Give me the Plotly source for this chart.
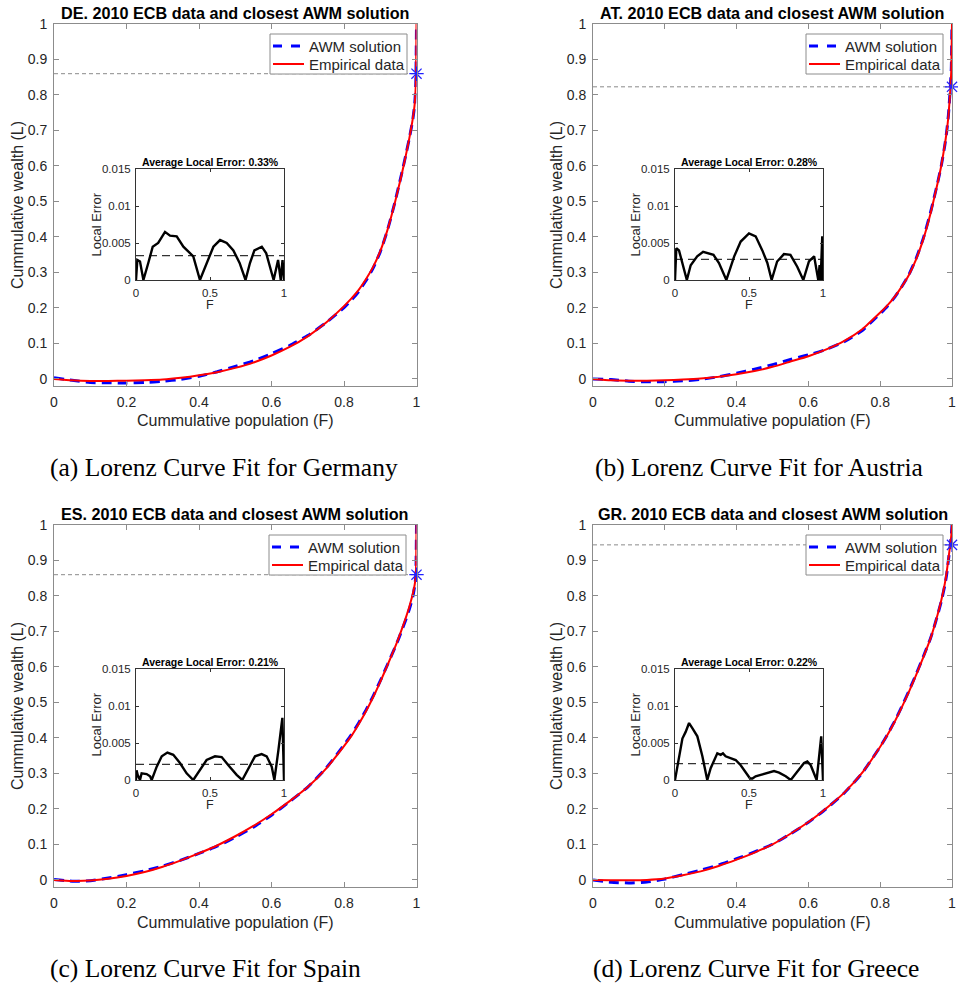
import plotly.graph_objects as go

# ---------------------------------------------------------------- data
W, H = 958, 986

F_GRID = [0, 0.05, 0.1, 0.15, 0.2, 0.25, 0.3, 0.35, 0.4, 0.45, 0.5, 0.55, 0.6, 0.65, 0.7, 0.75, 0.8,
          0.82, 0.84, 0.86, 0.88, 0.9, 0.92, 0.94, 0.95, 0.96, 0.97, 0.98, 0.985, 0.99, 0.995, 0.998, 1.0]

DE_EMP = [0, -0.004, -0.006, -0.006, -0.005, -0.004, -0.002, 0.003, 0.010, 0.019, 0.031, 0.046, 0.066,
          0.090, 0.120, 0.158, 0.205, 0.226, 0.250, 0.280, 0.315, 0.360, 0.420, 0.495, 0.537, 0.580,
          0.627, 0.677, 0.705, 0.735, 0.775, 0.830, 1.0]
DE_AWM = [0.003, -0.004, -0.010, -0.011, -0.0115, -0.010, -0.007, -0.001, 0.0075, 0.020, 0.035, 0.051, 0.071,
          0.094, 0.122, 0.158, 0.201, 0.2217, 0.2455, 0.2757, 0.3114, 0.3578, 0.4193, 0.496, 0.539, 0.5827,
          0.6285, 0.677, 0.7035, 0.7323, 0.7737, 0.830, 1.0]

AT_EMP = [0, -0.004, -0.005, -0.005, -0.004, -0.002, 0.001, 0.006, 0.013, 0.022, 0.034, 0.049, 0.064,
          0.083, 0.107, 0.140, 0.187, 0.207, 0.231, 0.260, 0.293, 0.337, 0.393, 0.465, 0.508, 0.552,
          0.600, 0.660, 0.695, 0.740, 0.810, 0.870, 1.0]
AT_AWM = [0, -0.0017, -0.0065, -0.0082, -0.0078, -0.0055, -0.0012, 0.006, 0.0162, 0.0274, 0.0403, 0.0548, 0.0677,
          0.0833, 0.1047, 0.1365, 0.184, 0.205, 0.2297, 0.2597, 0.2938, 0.3392, 0.396, 0.4682, 0.5102, 0.5528,
          0.600, 0.6585, 0.695, 0.743, 0.8159, 0.873, 1.0]

ES_EMP = [0, -0.003, -0.002, 0.003, 0.011, 0.022, 0.037, 0.055, 0.075, 0.097, 0.123, 0.152, 0.185,
          0.222, 0.262, 0.313, 0.377, 0.405, 0.438, 0.474, 0.514, 0.558, 0.605, 0.654, 0.680, 0.708,
          0.737, 0.769, 0.787, 0.807, 0.832, 0.856, 1.0]
ES_AWM = [0.0013, -0.0038, -0.0022, 0.0052, 0.0146, 0.0255, 0.0392, 0.0557, 0.0746, 0.0949, 0.1201, 0.1488, 0.1824,
          0.2206, 0.2617, 0.3143, 0.3801, 0.4084, 0.4415, 0.4774, 0.5172, 0.5606, 0.6066, 0.6532, 0.6778, 0.7042,
          0.7317, 0.7621, 0.7793, 0.7987, 0.828, 0.855, 1.0]

GR_EMP = [0, -0.001, -0.001, 0.000, 0.004, 0.013, 0.024, 0.039, 0.057, 0.077, 0.100, 0.130, 0.163,
          0.202, 0.246, 0.302, 0.375, 0.408, 0.445, 0.486, 0.530, 0.577, 0.627, 0.680, 0.712, 0.748,
          0.787, 0.835, 0.866, 0.905, 0.944, 0.970, 1.0]
GR_AWM = [0, -0.0066, -0.0086, -0.006, 0.0022, 0.0149, 0.0275, 0.0422, 0.0597, 0.0788, 0.1004, 0.1295, 0.1622,
          0.2009, 0.245, 0.3015, 0.3753, 0.409, 0.4465, 0.488, 0.5324, 0.5794, 0.6289, 0.6805, 0.712, 0.747,
          0.784, 0.830, 0.8601, 0.901, 0.942, 0.970, 1.0]

# local error of the AWM fit along F
DE_ERR_F = [0, 0.009, 0.027, 0.05, 0.083, 0.113, 0.15, 0.196, 0.23, 0.275, 0.32, 0.387, 0.432, 0.477, 0.523,
            0.568, 0.613, 0.658, 0.70, 0.74, 0.77, 0.80, 0.85, 0.88, 0.93, 0.96, 0.978, 0.99, 1.0]
DE_ERR = [0, 0.0027, 0.0025, 0, 0.0023, 0.0045, 0.005, 0.0065, 0.006, 0.0059, 0.0045, 0.0032, 0, 0.0023, 0.0045,
          0.0054, 0.005, 0.004, 0.0023, 0, 0.0023, 0.004, 0.0045, 0.0036, 0, 0.0027, 0, 0.0027, 0]

AT_ERR_F = [0, 0.009, 0.027, 0.05, 0.08, 0.106, 0.15, 0.19, 0.22, 0.26, 0.297, 0.347, 0.4, 0.444, 0.5, 0.545,
            0.59, 0.624, 0.653, 0.69, 0.736, 0.78, 0.826, 0.867, 0.905, 0.94, 0.968, 0.977, 0.984, 0.995, 1.0]
AT_ERR = [0, 0.0043, 0.004, 0.0023, 0, 0.002, 0.0032, 0.0038, 0.0036, 0.0034, 0.0023, 0, 0.0032, 0.0052, 0.0063,
          0.0059, 0.004, 0.0023, 0, 0.0025, 0.0035, 0.0034, 0.0018, 0, 0.0025, 0.0032, 0, 0.002, 0, 0.0059, 0]

ES_ERR_F = [0, 0.004, 0.011, 0.027, 0.038, 0.072, 0.095, 0.106, 0.14, 0.174, 0.212, 0.252, 0.297, 0.342, 0.387,
            0.432, 0.477, 0.534, 0.579, 0.624, 0.68, 0.718, 0.759, 0.804, 0.849, 0.883, 0.917, 0.935, 0.962,
            0.989, 1.0]
ES_ERR = [0, 0.0013, 0.0007, 0, 0.0009, 0.0008, 0.0005, 0, 0.0018, 0.0032, 0.0037, 0.0034, 0.0023, 0.0009, 0,
          0.0014, 0.0027, 0.0032, 0.0031, 0.002, 0.0007, 0, 0.0016, 0.0032, 0.0035, 0.0032, 0.0018, 0, 0.004,
          0.0084, 0]

GR_ERR_F = [0, 0.027, 0.05, 0.072, 0.095, 0.117, 0.151, 0.185, 0.218, 0.241, 0.264, 0.286, 0.309, 0.324, 0.342,
            0.376, 0.41, 0.444, 0.477, 0.507, 0.523, 0.545, 0.579, 0.624, 0.669, 0.703, 0.748, 0.782, 0.826,
            0.872, 0.894, 0.917, 0.957, 0.988, 1.0]
GR_ERR = [0, 0.0032, 0.0056, 0.0065, 0.0077, 0.007, 0.0059, 0.0032, 0, 0.0016, 0.0027, 0.0036, 0.0034, 0.0036,
          0.0032, 0.0029, 0.0027, 0.002, 0.0011, 0.0002, 0.0002, 0.0005, 0.0007, 0.001, 0.0012, 0.001, 0.0005, 0,
          0.0011, 0.0023, 0.0025, 0.002, 0, 0.0059, 0]

CODES = ["DE", "AT", "ES", "GR"]
COUNTRIES = ["Germany", "Austria", "Spain", "Greece"]
LETTERS = ["a", "b", "c", "d"]
SERIES_NAMES = ["AWM solution", "Empirical data"]
STAR_L = [0.86, 0.823, 0.86, 0.944]
AVG_ERR = [0.0033, 0.0028, 0.0021, 0.0022]
EMP = [DE_EMP, AT_EMP, ES_EMP, GR_EMP]
AWM = [DE_AWM, AT_AWM, ES_AWM, GR_AWM]
ERR_F = [DE_ERR_F, AT_ERR_F, ES_ERR_F, GR_ERR_F]
ERR = [DE_ERR, AT_ERR, ES_ERR, GR_ERR]

MAIN_Y_TICKS = [0, 0.1, 0.2, 0.3, 0.4, 0.5, 0.6, 0.7, 0.8, 0.9, 1]
MAIN_Y_TEXT = ["0", "0.1", "0.2", "0.3", "0.4", "0.5", "0.6", "0.7", "0.8", "0.9", "1"]
MAIN_X_TICKS = [0, 0.2, 0.4, 0.6, 0.8, 1]
MAIN_X_TEXT = ["0", "0.2", "0.4", "0.6", "0.8", "1"]
INS_Y_TICKS = [0, 0.005, 0.01, 0.015]
INS_Y_TEXT = ["0", "0.005", "0.01", "0.015"]
INS_X_TICKS = [0, 0.5, 1]
INS_X_TEXT = ["0", "0.5", "1"]

# ---------------------------------------------------------------- layout geometry (pixels)
MAIN_X = [(54, 416.5), (593, 952), (54, 416.5), (593, 952)]
MAIN_Y = [(24, 386), (24, 386), (525, 887), (525, 887)]      # top, bottom
INS_X = [(136, 284), (675, 823), (136, 284), (675, 823)]
INS_Y = [(169, 280), (169, 280), (669, 780), (669, 780)]
LEG_BOX = [(270, 34), (806, 34), (269, 535), (806, 535)]      # left, top
LEG_W, LEG_H = 137, 40
CAP_POS = [(48, 467), (593, 467), (48, 968), (591, 968)]

SANS = "Liberation Sans, Arial, Helvetica, sans-serif"
SERIF = "Liberation Serif, Times New Roman, serif"
TXT = "#262626"
FRAME = "#8c8c8c"
BLUE = "#0000ff"
RED = "#ff0000"


def px(x):
    return x / W


def py(y):
    return 1 - y / H


fig = go.Figure()
layout = dict(width=W, height=H, margin=dict(l=0, r=0, t=0, b=0),
              paper_bgcolor="white", plot_bgcolor="white", showlegend=False)
annotations = []
shapes = []

for i in range(4):
    mx, my = i + 1, i + 1            # main axes index
    ix, iy = i + 5, i + 5            # inset axes index
    xa = "x" if mx == 1 else f"x{mx}"
    ya = "y" if my == 1 else f"y{my}"

    # main axes
    layout["xaxis" if mx == 1 else f"xaxis{mx}"] = dict(
        domain=[px(MAIN_X[i][0]), px(MAIN_X[i][1])], anchor=ya, range=[0, 1],
        tickvals=MAIN_X_TICKS, ticktext=MAIN_X_TEXT, ticks="inside", ticklen=5,
        tickcolor=FRAME, showline=True, linecolor=FRAME, linewidth=1, mirror="allticks",
        showgrid=False, zeroline=False, tickfont=dict(family=SANS, size=14, color=TXT),
        ticklabelstandoff=3, ticklabeloverflow="allow", automargin=False)
    layout["yaxis" if my == 1 else f"yaxis{my}"] = dict(
        domain=[py(MAIN_Y[i][1]), py(MAIN_Y[i][0])], anchor=xa, range=[-0.02, 1],
        tickvals=MAIN_Y_TICKS, ticktext=MAIN_Y_TEXT, ticks="inside", ticklen=5,
        tickcolor=FRAME, showline=True, linecolor=FRAME, linewidth=1, mirror="allticks",
        showgrid=False, zeroline=False, tickfont=dict(family=SANS, size=14, color=TXT),
        ticklabelstandoff=3, automargin=False)

    # reference level of the top share
    fig.add_trace(go.Scatter(x=[0, 1], y=[STAR_L[i], STAR_L[i]], mode="lines", xaxis=xa, yaxis=ya,
                             line=dict(color="#8a8a8a", width=1, dash="4px,3px"), hoverinfo="skip"))
    fig.add_trace(go.Scatter(x=F_GRID, y=AWM[i], mode="lines", name=SERIES_NAMES[0], xaxis=xa, yaxis=ya,
                             line=dict(color=BLUE, width=3, dash="10px,6px", shape="spline",
                                       smoothing=0.5)))
    fig.add_trace(go.Scatter(x=F_GRID, y=EMP[i], mode="lines", name=SERIES_NAMES[1], xaxis=xa, yaxis=ya,
                             line=dict(color=RED, width=2, shape="spline", smoothing=0.5)))
    fig.add_trace(go.Scatter(x=[1], y=[STAR_L[i]], mode="markers", xaxis=xa, yaxis=ya, cliponaxis=False,
                             marker=dict(symbol="asterisk-open", size=12, color="#2020ff",
                                         line=dict(color="#2020ff", width=1.2))))

    # legend box with its two keys
    lx, ly = LEG_BOX[i]
    shapes.append(dict(type="rect", xref="paper", yref="paper", layer="above",
                       x0=px(lx), x1=px(lx + LEG_W), y0=py(ly + LEG_H), y1=py(ly),
                       fillcolor="white", line=dict(color=FRAME, width=1)))
    for k, (col, dash) in enumerate([(BLUE, "dash"), (RED, "solid")]):
        yk = ly + 12 + 18 * k
        shapes.append(dict(type="line", xref="paper", yref="paper", layer="above",
                           x0=px(lx + 3), x1=px(lx + 34), y0=py(yk), y1=py(yk),
                           line=dict(color=col, width=3 if k == 0 else 2, dash=dash)))
        annotations.append(dict(text=SERIES_NAMES[k], x=px(lx + 37), y=py(yk), xanchor="left",
                                yanchor="middle", font=dict(family=SANS, size=15, color=TXT)))

    # inset axes
    ixa, iya = f"x{ix}", f"y{iy}"
    layout[f"xaxis{ix}"] = dict(
        domain=[px(INS_X[i][0]), px(INS_X[i][1])], anchor=iya, range=[0, 1],
        tickvals=INS_X_TICKS, ticktext=INS_X_TEXT, ticks="inside", ticklen=3,
        tickcolor="#333", showline=True, linecolor="#333", linewidth=1, mirror="allticks",
        showgrid=False, zeroline=False, tickfont=dict(family=SANS, size=11.5, color=TXT),
        ticklabelstandoff=2, automargin=False)
    layout[f"yaxis{iy}"] = dict(
        domain=[py(INS_Y[i][1]), py(INS_Y[i][0])], anchor=ixa, range=[0, 0.015],
        tickvals=INS_Y_TICKS, ticktext=INS_Y_TEXT, ticks="inside", ticklen=3,
        tickcolor="#333", showline=True, linecolor="#333", linewidth=1, mirror="allticks",
        showgrid=False, zeroline=False, tickfont=dict(family=SANS, size=11.5, color=TXT),
        ticklabelstandoff=2, automargin=False)

    fig.add_trace(go.Scatter(x=[0, 1], y=[AVG_ERR[i], AVG_ERR[i]], mode="lines", xaxis=ixa, yaxis=iya,
                             line=dict(color="#333333", width=1.3, dash="8px,5px")))
    fig.add_trace(go.Scatter(x=ERR_F[i], y=ERR[i], mode="lines", xaxis=ixa, yaxis=iya,
                             line=dict(color="black", width=2.4)))

    # texts
    cx = (MAIN_X[i][0] + MAIN_X[i][1]) / 2
    top, bot = MAIN_Y[i]
    annotations.append(dict(text=f"<b>{CODES[i]}. 2010 ECB data and closest AWM solution</b>",
                            x=px(cx), y=py(top - 11), xanchor="center", yanchor="middle",
                            font=dict(family=SANS, size=16.2, color="black")))
    annotations.append(dict(text="Cummulative population (F)", x=px(cx), y=py(bot + 35),
                            xanchor="center", yanchor="middle",
                            font=dict(family=SANS, size=16, color=TXT)))
    annotations.append(dict(text="Cummulative wealth (L)", x=px(MAIN_X[i][0] - 37),
                            y=py((top + bot) / 2), xanchor="center", yanchor="middle", textangle=-90,
                            font=dict(family=SANS, size=16, color=TXT)))
    icx = (INS_X[i][0] + INS_X[i][1]) / 2
    itop, ibot = INS_Y[i]
    annotations.append(dict(text=f"<b>Average Local Error: {AVG_ERR[i] * 100:.2f}%</b>",
                            x=px(icx), y=py(itop - 7), xanchor="center", yanchor="middle",
                            font=dict(family=SANS, size=10.5, color="black")))
    annotations.append(dict(text="F", x=px(icx), y=py(ibot + 25), xanchor="center", yanchor="middle",
                            font=dict(family=SANS, size=12.5, color=TXT)))
    annotations.append(dict(text="Local Error", x=px(INS_X[i][0] - 40), y=py((itop + ibot) / 2),
                            xanchor="center", yanchor="middle", textangle=-90,
                            font=dict(family=SANS, size=13, color=TXT)))
    annotations.append(dict(text=f"({LETTERS[i]}) Lorenz Curve Fit for {COUNTRIES[i]}",
                            x=px(CAP_POS[i][0]), y=py(CAP_POS[i][1]), xanchor="left", yanchor="middle",
                            font=dict(family=SERIF, size=25.5, color="black")))

for a in annotations:
    a.update(xref="paper", yref="paper", showarrow=False)
layout["annotations"] = annotations
layout["shapes"] = shapes

fig.update_layout(**layout)
fig.write_html("out.html")
